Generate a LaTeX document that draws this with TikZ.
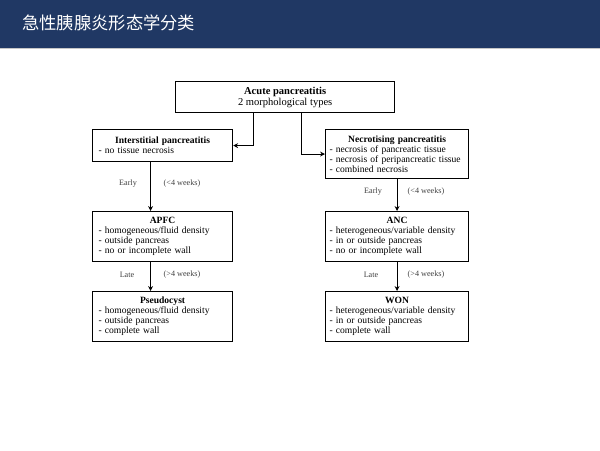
\documentclass[tikz,border=0pt]{standalone}
\usepackage{fontspec}
\setmainfont{Liberation Serif}
\newfontfamily\cjkfont{Noto Sans CJK SC}
\usetikzlibrary{arrows.meta}
\definecolor{headerblue}{RGB}{32,56,100}
\hyphenpenalty=10000
\newcommand{\stagetext}[2]{{\centering\textbf{#1}\par}#2}

\begin{document}
\begin{tikzpicture}[
    x=0.025cm, y=-0.025cm,
    stage/.style={rectangle, draw, line width=0.8pt, anchor=north west, text width=#1, inner xsep=0.15cm, inner ysep=1pt, align=left, font=\fontsize{6.8}{7.1}\selectfont},
    root/.style={rectangle, draw, line width=0.9pt, anchor=north west, align=center, font=\fontsize{7.5}{7.8}\selectfont},
    note/.style={font=\fontsize{5.8}{7}\selectfont, text=black!75},
    conn/.style={line width=0.8pt, -{Stealth[length=3.5pt,width=3.5pt]}}
]
    \useasboundingbox (0,0) rectangle (600,450);

    % Header bar
    \fill[headerblue] (0,0) rectangle (600,48);
    \draw[gray!45, line width=0.8pt] (0,48.6) -- (600,48.6);
    \node[anchor=west, inner sep=0, text=white, font=\cjkfont\fontsize{12.3}{14}\selectfont] (title) at (22,23) {急性胰腺炎形态学分类};

    % Top node
    \node[root, minimum width=5.475cm, minimum height=0.775cm] (acute) at (175,81) {\textbf{Acute pancreatitis}\\2 morphological types};

    % Left column
    \node[stage=3.2cm, minimum height=0.8cm] (inter) at (92,129) {\stagetext{Interstitial pancreatitis}{- no tissue necrosis}};
    \node[stage=3.2cm, minimum height=1.25cm] (apfc) at (92,211) {\stagetext{APFC}{- homogeneous/fluid density\\- outside pancreas\\- no or incomplete wall}};
    \node[stage=3.2cm, minimum height=1.25cm] (pseudo) at (92,291) {\stagetext{Pseudocyst}{- homogeneous/fluid density\\- outside pancreas\\- complete wall}};

    % Right column
    \node[stage=3.375cm, inner xsep=0.1cm, minimum height=1.225cm] (necro) at (325,129) {\stagetext{Necrotising pancreatitis}{- necrosis of pancreatic tissue\\- necrosis of peripancreatic tissue\\- combined necrosis}};
    \node[stage=3.375cm, inner xsep=0.1cm, minimum height=1.25cm] (anc) at (325,211) {\stagetext{ANC}{- heterogeneous/variable density\\- in or outside pancreas\\- no or incomplete wall}};
    \node[stage=3.375cm, inner xsep=0.1cm, minimum height=1.25cm] (won) at (325,291) {\stagetext{WON}{- heterogeneous/variable density\\- in or outside pancreas\\- complete wall}};

    % Time labels
    \node[note] (earlyL) at (128,184) {Early};
    \node[note] (weeksEL) at (182,184) {(<4 weeks)};
    \node[note] (lateL) at (127,275) {Late};
    \node[note] (weeksLL) at (182,275) {(>4 weeks)};
    \node[note] (earlyR) at (373,192) {Early};
    \node[note] (weeksER) at (426,192) {(<4 weeks)};
    \node[note] (lateR) at (371,275) {Late};
    \node[note] (weeksLR) at (426,275) {(>4 weeks)};

    % Connectors
    \draw[conn] ([xshift=-0.7875cm]acute.south) |- (inter.east);
    \draw[conn] ([xshift=0.4125cm]acute.south) |- (necro.west);
    \draw[conn] ([xshift=-0.3cm]inter.south) -- ([xshift=-0.3cm]apfc.north);
    \draw[conn] ([xshift=-0.3cm]apfc.south) -- ([xshift=-0.3cm]pseudo.north);
    \draw[conn] (necro.south) -- (anc.north);
    \draw[conn] (anc.south) -- (won.north);
\end{tikzpicture}
\end{document}
